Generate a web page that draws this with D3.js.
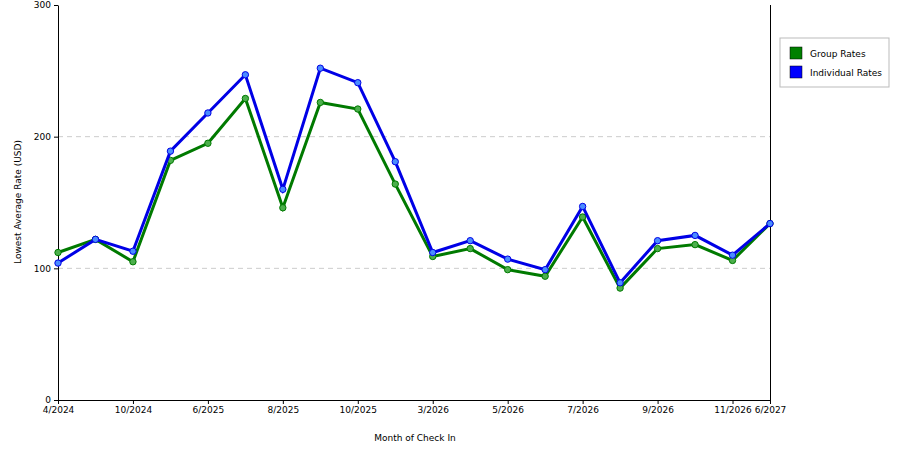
<!DOCTYPE html><html><head><script src="https://cdn.jsdelivr.net/npm/d3@7"></script>
<style>body{margin:0;background:#fff}text{font-family:"DejaVu Sans",sans-serif;font-size:9px;fill:#000}</style></head><body>
<svg id="c" width="900" height="450"></svg>
<script>
const categories=["4/2024","7/2024","10/2024","3/2025","6/2025","7/2025","8/2025","9/2025","10/2025","11/2025","3/2026","4/2026","5/2026","6/2026","7/2026","8/2026","9/2026","10/2026","11/2026","6/2027"];
const tickLabels=["4/2024","10/2024","6/2025","8/2025","10/2025","3/2026","5/2026","7/2026","9/2026","11/2026","6/2027"];
const groupRates=[112,122,105,182,195,229,146,226,221,164,109,115,99,94,139,85,115,118,106,134];
const individualRates=[104,122,113,189,218,247,160,252,241,181,112,121,107,99,147,89,121,125,110,134];
const yTicks=[0,100,200,300];
const svg=d3.select("#c");
const L=58,R=770,T=5,B=400;
const x=d3.scalePoint().domain(categories).range([L,R]);
const y=d3.scaleLinear().domain([0,300]).range([B,T]);
svg.append("g").selectAll("line").data([100,200]).join("line").attr("x1",L).attr("x2",R).attr("y1",d=>y(d)).attr("y2",d=>y(d)).attr("stroke","#ccc").attr("stroke-dasharray","5,4");
svg.append("g").attr("transform",`translate(${L},0)`).call(d3.axisLeft(y).tickValues(yTicks).tickSize(4).tickSizeOuter(0)).call(g=>g.selectAll("text").style("font-size","9px"));
svg.append("g").attr("transform",`translate(0,${B})`).call(d3.axisBottom(x).tickValues(tickLabels).tickSize(4).tickSizeOuter(0)).call(g=>g.selectAll("text").style("font-size","9px"));
svg.append("line").attr("x1",R+0.5).attr("x2",R+0.5).attr("y1",T).attr("y2",B).attr("stroke","#000").attr("shape-rendering","crispEdges");
svg.append("text").attr("x",415).attr("y",441).attr("text-anchor","middle").text("Month of Check In");
svg.append("text").attr("transform","translate(21,202) rotate(-90)").attr("text-anchor","middle").text("Lowest Average Rate (USD)");
const series=[{name:"Group Rates",v:groupRates,c:"#007a00",f:"#4caf4c"},{name:"Individual Rates",v:individualRates,c:"#0000e6",f:"#4a8cff"}];
const line=d3.line().x((d,i)=>x(categories[i])).y(d=>y(d));
series.forEach(s=>{
 svg.append("path").attr("d",line(s.v)).attr("fill","none").attr("stroke",s.c).attr("stroke-width",3);
 svg.append("g").selectAll("circle").data(s.v).join("circle").attr("cx",(d,i)=>x(categories[i])).attr("cy",d=>y(d)).attr("r",3.2).attr("fill",s.f).attr("stroke",s.c).attr("stroke-width",1);
});
const lg=svg.append("g");
lg.append("rect").attr("x",780).attr("y",38).attr("width",109).attr("height",49).attr("fill","#fff").attr("stroke","#bbb");
series.forEach((s,i)=>{
 lg.append("rect").attr("x",790).attr("y",47+i*19).attr("width",12).attr("height",12).attr("fill",s.c==="#007a00"?"#008000":"#0000ff").attr("stroke","#000").attr("stroke-width",0.5);
 lg.append("text").attr("x",810).attr("y",57+i*19).text(s.name);
});
</script></body></html>
